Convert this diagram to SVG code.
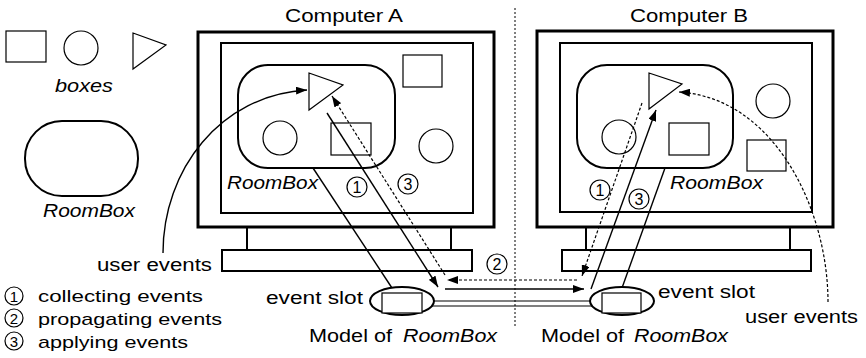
<svg xmlns="http://www.w3.org/2000/svg" width="866" height="358" viewBox="0 0 866 358">
  <style>
    text { font-family: "Liberation Sans", "Noto Sans CJK JP", sans-serif; fill: #000; }
    .lbl { font-size: 18px; }
    .leg { font-size: 17px; }
    .it { font-style: italic; }
    .num { font-size: 16px; text-anchor: middle; }
    .ring { fill: #fff; stroke: #000; stroke-width: 1.2; }
    .frame { fill: #fff; stroke: #000; stroke-width: 3; }
    .screen { fill: #fff; stroke: #000; stroke-width: 2; }
    .stand { fill: #fff; stroke: #000; stroke-width: 2; }
    .room { fill: none; stroke: #000; stroke-width: 2; }
    .shape { fill: #fff; stroke: #000; stroke-width: 1.2; }
    .solid { fill: none; stroke: #000; stroke-width: 1.4; }
    .dot { fill: none; stroke: #000; stroke-width: 1.2; stroke-dasharray: 3 2; }
    .sep { fill: none; stroke: #000; stroke-width: 1; stroke-dasharray: 2 2; }
    .slot { fill: #fff; stroke: #000; stroke-width: 2; }
    .rail { fill: none; stroke: #000; stroke-width: 1.2; }
  </style>
  <defs>
    <marker id="arrow" viewBox="0 0 11 8" refX="11" refY="4" markerWidth="11" markerHeight="8" markerUnits="userSpaceOnUse" orient="auto">
      <path d="M0,0 L11,4 L0,8 Z" fill="#000"/>
    </marker>
  </defs>

  <rect width="866" height="358" fill="#fff"/>

  <!-- legend: box shapes -->
  <g id="legend-boxes">
    <rect class="shape" x="6" y="31" width="40" height="31"/>
    <circle class="shape" cx="81" cy="48" r="17"/>
    <polygon class="shape" points="133,33 166,45 133,69"/>
    <text class="lbl it" x="55" y="92" textLength="58" lengthAdjust="spacingAndGlyphs">boxes</text>
  </g>

  <!-- legend: RoomBox -->
  <g id="legend-roombox">
    <rect class="room" x="25" y="121" width="113" height="75" rx="37" ry="37"/>
    <text class="lbl it" x="43" y="217" textLength="92" lengthAdjust="spacingAndGlyphs">RoomBox</text>
  </g>

  <!-- legend: event steps -->
  <g id="legend-steps">
    <circle class="ring" cx="14" cy="296" r="9"/>
    <text class="num" x="14" y="301.5" style="font-size:15px">1</text>
    <text class="leg" x="38" y="302" textLength="165" lengthAdjust="spacingAndGlyphs">collecting events</text>
    <circle class="ring" cx="14" cy="318" r="9"/>
    <text class="num" x="14" y="323.5" style="font-size:15px">2</text>
    <text class="leg" x="38" y="325" textLength="184" lengthAdjust="spacingAndGlyphs">propagating events</text>
    <circle class="ring" cx="14" cy="341" r="9"/>
    <text class="num" x="14" y="346.5" style="font-size:15px">3</text>
    <text class="leg" x="38" y="348" textLength="150" lengthAdjust="spacingAndGlyphs">applying events</text>
  </g>

  <!-- separator between the two machines -->
  <line class="sep" x1="515" y1="8" x2="515" y2="328"/>

  <!-- Computer A -->
  <g id="computer-a">
    <text class="lbl" x="285" y="22" textLength="118" lengthAdjust="spacingAndGlyphs">Computer A</text>
    <rect class="stand" x="247" y="227" width="204" height="23"/>
    <rect class="stand" x="222" y="250" width="250" height="21"/>
    <rect class="frame" x="198" y="32" width="296" height="195"/>
    <rect class="screen" x="221" y="43" width="252" height="170"/>
    <rect class="shape" x="403" y="55" width="39" height="32"/>
    <circle class="shape" cx="436" cy="146" r="17"/>
  </g>
  <g id="roombox-a">
    <rect class="room" x="238" y="65" width="157" height="103" rx="30" ry="30"/>
    <polygon class="shape" points="309,73 343,85 309,110"/>
    <circle class="shape" cx="280" cy="138" r="17"/>
    <rect class="shape" x="331" y="123" width="40" height="32"/>
    <text class="lbl it" x="227" y="189" textLength="91" lengthAdjust="spacingAndGlyphs">RoomBox</text>
  </g>

  <!-- Computer B -->
  <g id="computer-b">
    <text class="lbl" x="630" y="22" textLength="118" lengthAdjust="spacingAndGlyphs">Computer B</text>
    <rect class="stand" x="586" y="227" width="204" height="23"/>
    <rect class="stand" x="562" y="250" width="249" height="21"/>
    <rect class="frame" x="537" y="31" width="296" height="196"/>
    <rect class="screen" x="560" y="43" width="252" height="169"/>
    <circle class="shape" cx="773" cy="101" r="17"/>
    <rect class="shape" x="747" y="140" width="39" height="31"/>
  </g>
  <g id="roombox-b">
    <rect class="room" x="577" y="65" width="156" height="103" rx="30" ry="30"/>
    <polygon class="shape" points="649,73 682,84 649,109"/>
    <circle class="shape" cx="619" cy="137" r="17"/>
    <rect class="shape" x="669" y="123" width="40" height="32"/>
    <text class="lbl it" x="670" y="189" textLength="93" lengthAdjust="spacingAndGlyphs">RoomBox</text>
  </g>

  <!-- connectors -->
  <g id="connectors">
    <!-- model links -->
    <line class="solid" x1="313" y1="168" x2="392" y2="288"/>
    <line class="solid" x1="665" y1="168" x2="622" y2="288"/>
    <!-- slot rails -->
    <line class="rail" x1="422" y1="301" x2="602" y2="301"/>
    <line class="rail" x1="422" y1="306" x2="602" y2="306"/>
    <!-- user events -->
    <path class="solid" d="M163,253 C163,170 220,95 307,90" marker-end="url(#arrow)"/>
    <path class="dot" d="M828,302 C828,210 775,98 679,92" marker-end="url(#arrow)"/>
    <!-- path: A collects, propagates, B applies -->
    <line class="solid" x1="327" y1="113" x2="438" y2="287" marker-end="url(#arrow)"/>
    <line class="solid" x1="445" y1="289" x2="584" y2="289" marker-end="url(#arrow)"/>
    <line class="solid" x1="591" y1="289" x2="656" y2="110" marker-end="url(#arrow)"/>
    <!-- path: B collects, propagates, A applies -->
    <line class="dot" x1="642" y1="103" x2="582" y2="276" marker-end="url(#arrow)"/>
    <line class="dot" x1="577" y1="280" x2="447" y2="280" marker-end="url(#arrow)"/>
    <line class="dot" x1="445" y1="275" x2="332" y2="96" marker-end="url(#arrow)"/>
  </g>

  <!-- step numbers -->
  <g id="step-labels">
    <circle class="ring" cx="357" cy="187" r="10"/>
    <text class="num" x="357" y="193">1</text>
    <circle class="ring" cx="408" cy="184" r="10"/>
    <text class="num" x="408" y="190">3</text>
    <circle class="ring" cx="497" cy="264" r="10"/>
    <text class="num" x="497" y="270">2</text>
    <circle class="ring" cx="600" cy="190" r="10"/>
    <text class="num" x="600" y="196">1</text>
    <circle class="ring" cx="639" cy="199" r="10"/>
    <text class="num" x="639" y="205">3</text>
  </g>

  <!-- event slots -->
  <g id="slot-a">
    <ellipse class="slot" cx="402" cy="301" rx="32" ry="14"/>
    <rect class="shape" x="382" y="293" width="40" height="20"/>
    <text class="lbl" x="266" y="304" textLength="97" lengthAdjust="spacingAndGlyphs">event slot</text>
    <text class="lbl" y="342"><tspan x="309" textLength="83" lengthAdjust="spacingAndGlyphs">Model of</tspan> <tspan class="it" x="403" textLength="94" lengthAdjust="spacingAndGlyphs">RoomBox</tspan></text>
  </g>
  <g id="slot-b">
    <ellipse class="slot" cx="622" cy="301" rx="32" ry="14"/>
    <rect class="shape" x="602" y="293" width="39" height="20"/>
    <text class="lbl" x="658" y="298" textLength="97" lengthAdjust="spacingAndGlyphs">event slot</text>
    <text class="lbl" y="342"><tspan x="541" textLength="83" lengthAdjust="spacingAndGlyphs">Model of</tspan> <tspan class="it" x="634" textLength="94" lengthAdjust="spacingAndGlyphs">RoomBox</tspan></text>
  </g>

  <!-- user event labels -->
  <text class="lbl" x="97" y="271" textLength="115" lengthAdjust="spacingAndGlyphs">user events</text>
  <text class="lbl" x="745" y="323" textLength="113" lengthAdjust="spacingAndGlyphs">user events</text>
</svg>
